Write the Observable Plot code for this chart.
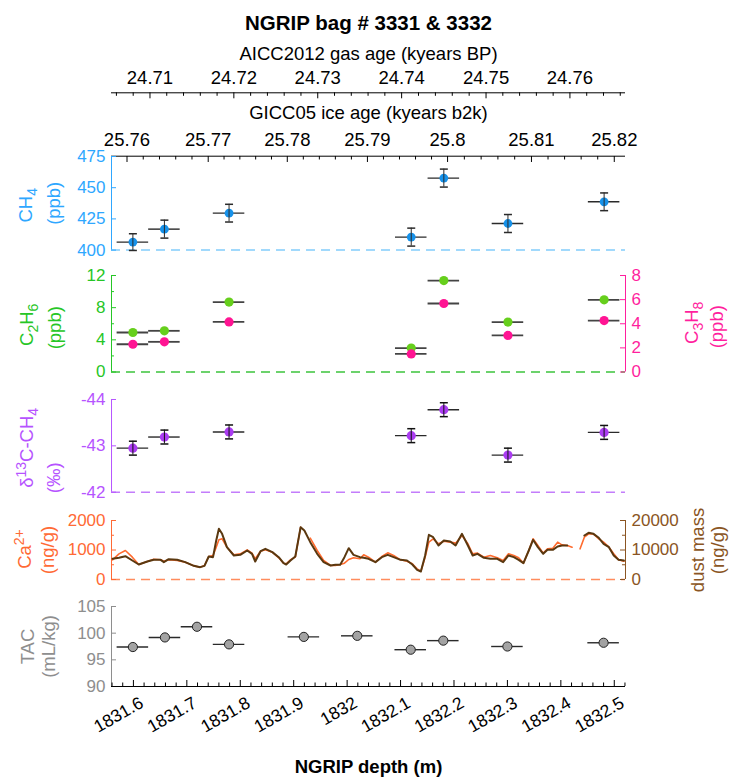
<!DOCTYPE html>
<html>
<head>
<meta charset="utf-8">
<script src="https://cdn.jsdelivr.net/npm/d3@7"></script>
<script src="https://cdn.jsdelivr.net/npm/@observablehq/plot@0.6"></script>
<style>
  body { margin: 0; background: #fff; }
  #fig { position: relative; width: 730px; height: 779px; background: #fff;
         font-family: "Liberation Sans", Arial, Helvetica, sans-serif; }
</style>
</head>
<body>
<div id="fig"></div>
<script>
// ---------------- DATA ----------------
const depthDomain = [1831.559, 1832.521];

// discrete samples (bag sections), centre depth in m
const sampleDepth = [1831.599, 1831.658, 1831.779, 1832.120, 1832.181, 1832.301, 1832.481];
const sampleHalf = 0.0295;
const ch4 = [406.4, 416.8, 429.6, 410.4, 457.7, 421.3, 438.7];
const ch4Err = [6.7, 7.2, 7.1, 7.2, 7.2, 7.2, 7.1];
const c2h6 = [4.91, 5.12, 8.69, 2.98, 11.37, 6.21, 8.98];
const c3h8 = [2.30, 2.50, 4.15, 1.50, 5.68, 3.03, 4.26];
const d13c = [-42.95, -43.19, -43.30, -43.22, -43.78, -42.80, -43.29];
const d13cErr = [0.15, 0.15, 0.15, 0.15, 0.15, 0.15, 0.15];

const tacDepth = [1831.599, 1831.659, 1831.719, 1831.779, 1831.919, 1832.019, 1832.119, 1832.180, 1832.300, 1832.480];
const tac = [97.4, 99.2, 101.2, 97.9, 99.3, 99.5, 96.9, 98.6, 97.5, 98.2];

// continuous flow analysis records
const contDepth = [
  1831.561, 1831.573, 1831.585, 1831.598, 1831.610, 1831.626, 1831.638, 1831.651, 1831.657, 1831.666, 1831.682, 1831.697,
  1831.713, 1831.725, 1831.733, 1831.741, 1831.749, 1831.755, 1831.760, 1831.766, 1831.775, 1831.788,
  1831.800, 1831.813, 1831.822, 1831.828, 1831.838, 1831.847, 1831.860, 1831.872, 1831.881, 1831.886,
  1831.894, 1831.903, 1831.913, 1831.920, 1831.931, 1831.944, 1831.956, 1831.969, 1831.978, 1831.987,
  1831.995, 1832.003, 1832.012, 1832.024, 1832.031, 1832.040, 1832.053, 1832.065, 1832.076, 1832.087,
  1832.100, 1832.112, 1832.122, 1832.131, 1832.138, 1832.146, 1832.153, 1832.161, 1832.171, 1832.181,
  1832.193, 1832.203, 1832.215, 1832.226, 1832.235, 1832.244, 1832.256, 1832.268, 1832.281, 1832.292,
  1832.302, 1832.312, 1832.321, 1832.330, 1832.340, 1832.348, 1832.357, 1832.367, 1832.375, 1832.385,
  1832.394, 1832.402, 1832.412, 1832.421, 1832.429, 1832.436, 1832.444, 1832.452, 1832.461, 1832.471,
  1832.480, 1832.490, 1832.499, 1832.508, 1832.518
];
const ca = [
  667, 870, 983, 757, 509, 610, 689, 667, 621, 667, 644, 588,
  463, 418, 475, 780, 814, 1096, 1345, 1379, 1096, 836,
  870, 1006, 893, 701, 960, 1006, 927, 735, 554, 531,
  667, 757, 1774, null, 1401, 983, 644, 475, 475, 509,
  554, 678, 735, 701, 836, 757, 588, 780, 904, 814,
  667, 621, 531, 362, 282, 757, 1266, 1379, 1209, 1299,
  1266, 1232, 1492, 1209, 870, 893, 757, 814, 735, 644,
  870, 814, 735, 554, 983, 1379, 1153, 893, 1040, 1062,
  1266, 1175, 1153, 1096, null, 1040, 1435, 1548, 1548, 1379,
  1266, 1096, 870, 667, 621
];
const dust = [
  7010, 7350, 7910, 6440, 5090, 6100, 6670, 6670, 5880, 6890, 6670, 5880,
  4630, 4180, 4630, 7800, 7570, 13220, 17180, 15480, 10960, 8140,
  8360, 9830, 8700, 6100, 9600, 10400, 9270, 7570, 5540, 5090,
  6440, 7800, 17740, 16610, 12660, 8700, 5880, 4750, 4970, 4970,
  7570, 10620, 8360, 7570, 7350, 7010, 5880, 7570, 8360, 7570,
  6670, 6440, 5090, 3280, 2710, 8140, 15140, 14350, 11530, 13220,
  12880, 11530, 15480, 11530, 8140, 8700, 7350, 7010, 7010, 5880,
  8140, 7570, 6670, 5540, 9830, 13450, 10960, 8700, 10060, 10060,
  11190, 11530, 11530, null, null, null, 14920, 15820, 15480, 14130,
  12090, 10960, 8140, 6670, 6440
];

// age scales: tick ages and the depth at which each falls
const giccAges = [25.76, 25.77, 25.78, 25.79, 25.80, 25.81, 25.82];
const giccLabels = ["25.76", "25.77", "25.78", "25.79", "25.8", "25.81", "25.82"];
const giccDepth = [1831.588, 1831.740, 1831.888, 1832.038, 1832.188, 1832.345, 1832.500];
const aiccAges = [24.71, 24.72, 24.73, 24.74, 24.75, 24.76];
const aiccLabels = ["24.71", "24.72", "24.73", "24.74", "24.75", "24.76"];
const aiccDepth = [1831.631, 1831.788, 1831.945, 1832.102, 1832.260, 1832.417];

const depthTicks = [1831.6, 1831.7, 1831.8, 1831.9, 1832.0, 1832.1, 1832.2, 1832.3, 1832.4, 1832.5];
const depthLabels = ["1831.6", "1831.7", "1831.8", "1831.9", "1832", "1832.1", "1832.2", "1832.3", "1832.4", "1832.5"];

const ch4Ticks = [400, 425, 450, 475];
const c2h6Ticks = [0, 4, 8, 12], c2h6Minor = [2, 6, 10];
const c3h8Ticks = [0, 2, 4, 6, 8];
const d13cTicks = [-44, -43, -42], d13cLabels = ["-44", "-43", "-42"];
const caTicks = [0, 1000, 2000], caMinor = [500, 1500];
const dustTicks = [0, 10000, 20000], dustMinor = [5000, 15000];
const tacTicks = [90, 95, 100, 105];

// ---------------- LAYOUT / STYLE ----------------
const fig = document.getElementById("fig");
const W = 730, ML = 111, MR = 105, FW = W - ML - MR;
const FONT = '"Liberation Sans", Arial, Helvetica, sans-serif';
const X0 = depthDomain[0], X1 = depthDomain[1];

const C = {
  ch4: "#2ea7ff", ch4Dot: "#1792ea", ch4Dash: "#82cdfb",
  c2: "#26c626", c2Dot: "#66cf1c", c2Dash: "#3cc43c",
  c3: "#ff1f9e", c3Dot: "#ff1493",
  d13: "#b653ff", d13Dot: "#ab3cf2", d13Dash: "#c37dfb",
  ca: "#ff6a35", caLine: "#ff6b2e", caDash: "#ff8c5e",
  dust: "#8a5523", dustLine: "#5a3810",
  tac: "#8e8e8e", tacDot: "#a3a3a3",
  bar: "#2a2a2a"
};

const capSymbol = { draw(ctx) { ctx.moveTo(-4, 0); ctx.lineTo(4, 0); } };
const idx = d3.range(sampleDepth.length);
const tidx = d3.range(tacDepth.length);
const cidx = d3.range(contDepth.length);

// turn "CH_{4}" / "Ca^{2+}" into real text with sub/superscript tspans
function texify(svg) {
  d3.select(svg).selectAll("text").each(function () {
    const t = this.textContent;
    if (!/[_^]\{/.test(t)) return;
    const parts = [];
    const re = /([_^])\{([^}]*)\}|([^_^]+)/g;
    let m;
    while ((m = re.exec(t))) parts.push(m[3] !== undefined ? {type: "", s: m[3]} : {type: m[1], s: m[2]});
    this.textContent = "";
    let shift = 0;
    for (const p of parts) {
      const ts = d3.select(this).append("tspan").text(p.s);
      const target = p.type === "_" ? 5 : p.type === "^" ? -7 : 0;
      if (p.type) ts.attr("font-size", "76%");
      if (target - shift) ts.attr("dy", (target - shift) + "px");
      shift = target;
    }
  });
}

function mount(svg, top) {
  svg.style.position = "absolute";
  svg.style.left = "0px";
  svg.style.top = top + "px";
  texify(svg);
  fig.appendChild(svg);
}

function panel(top, bottom, ydomain, marks) {
  const pad = 12;
  const svg = Plot.plot({
    width: W, height: bottom - top + 2 * pad,
    marginTop: pad, marginBottom: pad, marginLeft: ML, marginRight: MR,
    x: {domain: depthDomain, axis: null},
    y: {domain: ydomain, axis: null},
    style: {background: "transparent", overflow: "visible", fontFamily: FONT},
    marks
  });
  mount(svg, top - pad);
}

const leftTicks = (v, len, c) => Plot.ruleY(v, {y: d => d, stroke: c, insetRight: FW - len});
const rightTicks = (v, len, c) => Plot.ruleY(v, {y: d => d, stroke: c, insetLeft: FW - len});
const leftLabels = (v, lab, c) => Plot.text(v, {y: d => d, text: (d, i) => lab[i], frameAnchor: "left",
  textAnchor: "end", dx: -6, fill: c, fontSize: 17});
const rightLabels = (v, lab, c) => Plot.text(v, {y: d => d, text: (d, i) => lab[i], frameAnchor: "right",
  textAnchor: "start", dx: 6, fill: c, fontSize: 17});
const yTitle = (s, side, xpos, c, dy = 0) => Plot.text([s], {text: d => d, frameAnchor: side, rotate: -90,
  textAnchor: "middle", lineAnchor: "middle",
  dx: side === "left" ? xpos - ML : xpos - (W - MR), dy, fill: c, fontSize: 18.5});

// minor tick ages (every 0.002 kyr) mapped through the tick depth tie points
function minorDepths(ages, depths, lo, hi) {
  const s = d3.scaleLinear().domain(ages).range(depths);
  const out = [];
  for (let k = 0; k <= Math.round((hi - lo) / 0.002); k++) {
    const a = lo + k * 0.002;
    if (Math.round(a * 1000) % 10 === 0) continue;
    const d = s(a);
    if (d >= X0 && d <= X1) out.push(d);
  }
  return out;
}
const giccMinor = minorDepths(giccAges, giccDepth, 25.750, 25.830);
const aiccMinor = minorDepths(aiccAges, aiccDepth, 24.700, 24.770);
const depthMinor = d3.range(0, 49).map(k => 1831.56 + k * 0.02)
  .filter(d => d >= X0 && d <= X1 && Math.abs(d * 10 - Math.round(d * 10)) > 1e-6);

// ---------------- HEADER: title + two age axes ----------------
{
  const top = 92.3, bot = 155.7, FH = bot - top;
  const svg = Plot.plot({
    width: W, height: 160, marginTop: top, marginBottom: 160 - bot, marginLeft: ML, marginRight: MR,
    x: {domain: depthDomain, axis: null},
    y: {domain: [0, 1], axis: null},
    style: {background: "transparent", overflow: "visible", fontFamily: FONT},
    marks: [
      Plot.ruleY([1], {stroke: "#000"}),
      Plot.ruleY([0], {stroke: "#000"}),
      Plot.ruleX(aiccDepth, {x: d => d, stroke: "#000", insetBottom: FH - 6}),
      Plot.ruleX(aiccMinor, {x: d => d, stroke: "#000", insetBottom: FH - 3.5}),
      Plot.text(aiccDepth, {x: d => d, text: (d, i) => aiccLabels[i], frameAnchor: "top", lineAnchor: "bottom",
        dy: -9, fontSize: 18.5, fill: "#000"}),
      Plot.text(["AICC2012 gas age (kyears BP)"], {text: d => d, frameAnchor: "top", lineAnchor: "bottom",
        textAnchor: "middle", dy: -32.5, fontSize: 18.5, fill: "#000"}),
      Plot.text(["NGRIP bag # 3331 & 3332"], {text: d => d, frameAnchor: "top", lineAnchor: "bottom",
        textAnchor: "middle", dy: -62.5, fontSize: 20.5, fontWeight: "bold", fill: "#000"}),
      Plot.text(["GICC05 ice age (kyears b2k)"], {text: d => d, frameAnchor: "bottom", lineAnchor: "bottom",
        textAnchor: "middle", dy: -37.5, fontSize: 18.5, fill: "#000"}),
      Plot.text(giccDepth, {x: d => d, text: (d, i) => giccLabels[i], frameAnchor: "bottom", lineAnchor: "bottom",
        dy: -10.7, fontSize: 18.5, fill: "#000"})
    ]
  });
  mount(svg, 0);
}

// ---------------- CH4 ----------------
{
  const top = 155.7, bot = 249.3, FH = bot - top;
  panel(top, bot, [400, 475], [
    Plot.ruleY([400], {stroke: C.ch4Dash, strokeDasharray: "9,6", strokeWidth: 1.5}),
    Plot.ruleX([X0], {stroke: C.ch4}),
    leftTicks(ch4Ticks, 5, C.ch4),
    leftLabels(ch4Ticks, ch4Ticks.map(String), C.ch4),
    Plot.ruleX(giccDepth, {x: d => d, stroke: "#000", insetBottom: FH - 6}),
    Plot.ruleX(giccMinor, {x: d => d, stroke: "#000", insetBottom: FH - 3.5}),
    Plot.ruleY(idx, {y: i => ch4[i], x1: i => sampleDepth[i] - sampleHalf, x2: i => sampleDepth[i] + sampleHalf,
      stroke: C.bar, strokeWidth: 1.4}),
    Plot.dot(idx, {x: i => sampleDepth[i], y: i => ch4[i], r: 4.4, fill: C.ch4Dot}),
    Plot.ruleX(idx, {x: i => sampleDepth[i], y1: i => ch4[i] - ch4Err[i], y2: i => ch4[i] + ch4Err[i], stroke: C.bar}),
    Plot.dot(idx, {x: i => sampleDepth[i], y: i => ch4[i] + ch4Err[i], symbol: capSymbol, stroke: C.bar, fill: "none"}),
    Plot.dot(idx, {x: i => sampleDepth[i], y: i => ch4[i] - ch4Err[i], symbol: capSymbol, stroke: C.bar, fill: "none"}),
    yTitle("CH_{4}", "left", 26, C.ch4, 2),
    yTitle("(ppb)", "left", 54, C.ch4)
  ]);
}

// ---------------- C2H6 (left) / C3H8 (right) ----------------
{
  const top = 274.5, bot = 371;
  panel(top, bot, [0, 12], [
    Plot.ruleY([0], {stroke: C.c2Dash, strokeDasharray: "9,6", strokeWidth: 1.5}),
    Plot.ruleX([X0], {stroke: C.c2}),
    leftTicks(c2h6Ticks, 5, C.c2),
    leftTicks(c2h6Minor, 3, C.c2),
    leftLabels(c2h6Ticks, c2h6Ticks.map(String), C.c2),
    Plot.ruleY(idx, {y: i => c2h6[i], x1: i => sampleDepth[i] - sampleHalf, x2: i => sampleDepth[i] + sampleHalf,
      stroke: "#444", strokeWidth: 1.8}),
    Plot.dot(idx, {x: i => sampleDepth[i], y: i => c2h6[i], r: 4.6, fill: C.c2Dot}),
    yTitle("C_{2}H_{6}", "left", 27, C.c2, 1),
    yTitle("(ppb)", "left", 55, C.c2, 4)
  ]);
  panel(top, bot, [0, 8], [
    Plot.ruleX([X1], {stroke: C.c3}),
    rightTicks(c3h8Ticks, 5, C.c3),
    rightLabels(c3h8Ticks, c3h8Ticks.map(String), C.c3),
    Plot.ruleY(idx, {y: i => c3h8[i], x1: i => sampleDepth[i] - sampleHalf, x2: i => sampleDepth[i] + sampleHalf,
      stroke: "#444", strokeWidth: 1.8}),
    Plot.dot(idx, {x: i => sampleDepth[i], y: i => c3h8[i], r: 4.6, fill: C.c3Dot}),
    yTitle("C_{3}H_{8}", "right", 692, C.c3, -1),
    yTitle("(ppb)", "right", 717, C.c3, 3)
  ]);
}

// ---------------- d13C-CH4 ----------------
{
  const top = 399.3, bot = 492;
  panel(top, bot, [-42, -44], [
    Plot.ruleY([-42], {stroke: C.d13Dash, strokeDasharray: "9,6", strokeWidth: 1.5}),
    Plot.ruleX([X0], {stroke: C.d13}),
    leftTicks(d13cTicks, 5, C.d13),
    leftLabels(d13cTicks, d13cLabels, C.d13),
    Plot.ruleY(idx, {y: i => d13c[i], x1: i => sampleDepth[i] - sampleHalf, x2: i => sampleDepth[i] + sampleHalf,
      stroke: C.bar, strokeWidth: 1.4}),
    Plot.dot(idx, {x: i => sampleDepth[i], y: i => d13c[i], r: 4.6, fill: C.d13Dot}),
    Plot.ruleX(idx, {x: i => sampleDepth[i], y1: i => d13c[i] - d13cErr[i], y2: i => d13c[i] + d13cErr[i], stroke: "#111"}),
    Plot.dot(idx, {x: i => sampleDepth[i], y: i => d13c[i] + d13cErr[i], symbol: capSymbol, stroke: "#111", fill: "none"}),
    Plot.dot(idx, {x: i => sampleDepth[i], y: i => d13c[i] - d13cErr[i], symbol: capSymbol, stroke: "#111", fill: "none"}),
    yTitle("δ^{13}C-CH_{4}", "left", 27, C.d13, 2),
    yTitle("(‰)", "left", 54, C.d13, 32)
  ]);
}

// ---------------- Ca2+ (left) / dust (right) ----------------
{
  const top = 520, bot = 579;
  panel(top, bot, [0, 2000], [
    Plot.ruleY([0], {stroke: C.caDash, strokeDasharray: "9,6", strokeWidth: 1.5}),
    Plot.ruleX([X0], {stroke: C.ca}),
    leftTicks(caTicks, 5, C.ca),
    leftTicks(caMinor, 3, C.ca),
    leftLabels(caTicks, caTicks.map(String), C.ca),
    Plot.line(cidx, {x: i => contDepth[i], y: i => ca[i], stroke: C.caLine, strokeWidth: 1.6}),
    yTitle("Ca^{2+}", "left", 25, C.ca, -1),
    yTitle("(ng/g)", "left", 48, C.ca)
  ]);
  panel(top, bot, [0, 20000], [
    Plot.ruleX([X1], {stroke: C.dust}),
    rightTicks(dustTicks, 5, C.dust),
    rightTicks(dustMinor, 3, C.dust),
    rightLabels(dustTicks, dustTicks.map(String), C.dust),
    Plot.line(cidx, {x: i => contDepth[i], y: i => dust[i], stroke: C.dustLine, strokeWidth: 2}),
    yTitle("dust mass", "right", 698, C.dust),
    yTitle("(ng/g)", "right", 718, C.dust)
  ]);
}

// ---------------- TAC + depth axis ----------------
{
  const top = 605.7, bot = 685.7, FH = bot - top;
  panel(top, bot, [90, 105], [
    Plot.ruleX([X0], {stroke: C.tac}),
    leftTicks(tacTicks, 5, C.tac),
    leftLabels(tacTicks, tacTicks.map(String), C.tac),
    Plot.ruleY([90], {stroke: "#000"}),
    Plot.ruleX(depthTicks, {x: d => d, stroke: "#000", insetTop: FH - 6}),
    Plot.ruleX(depthMinor, {x: d => d, stroke: "#000", insetTop: FH - 3.5}),
    Plot.text(depthTicks, {x: d => d, text: (d, i) => depthLabels[i], frameAnchor: "bottom", rotate: -30,
      textAnchor: "end", lineAnchor: "top", dx: 5, dy: 9, fontSize: 17.5, fill: "#000"}),
    Plot.text(["NGRIP depth (m)"], {text: d => d, frameAnchor: "bottom", lineAnchor: "bottom", textAnchor: "middle",
      dy: 86, fontSize: 18.5, fontWeight: "bold", fill: "#000"}),
    Plot.ruleY(tidx, {y: i => tac[i], x1: i => tacDepth[i] - sampleHalf, x2: i => tacDepth[i] + sampleHalf,
      stroke: C.bar, strokeWidth: 1.4}),
    Plot.dot(tidx, {x: i => tacDepth[i], y: i => tac[i], r: 4.6, fill: C.tacDot, stroke: "#222", strokeWidth: 1}),
    yTitle("TAC", "left", 28, C.tac),
    yTitle("(mL/kg)", "left", 49, C.tac)
  ]);
}
</script>
</body>
</html>
